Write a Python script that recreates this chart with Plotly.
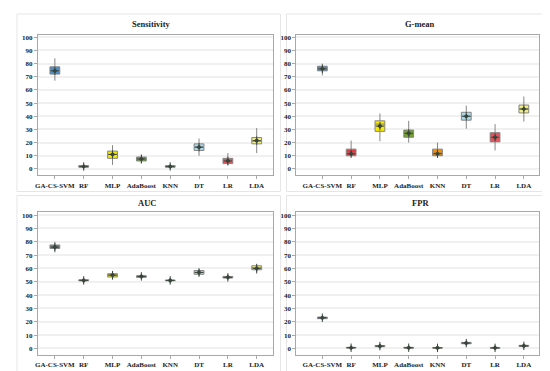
import plotly.graph_objects as go

categories = ["GA-CS-SVM", "RF", "MLP", "AdaBoost", "KNN", "DT", "LR", "LDA"]
colors = ["#4a8fcb", "#e8383d", "#f7e800", "#72a02c", "#f28c00", "#a9d9ec", "#e9505a", "#f3ee7e"]

# Sensitivity
sens_low = [67, 0.8, 3, 4, 0.5, 10, 2.5, 12]
sens_q1 = [72, 1.2, 8, 6, 1.2, 14, 4, 19]
sens_med = [74.5, 1.8, 11, 7.5, 1.8, 16.5, 6, 21]
sens_q3 = [77.5, 2.5, 13.5, 9, 2.5, 19, 8, 23.8]
sens_high = [84, 3, 18, 11, 3, 23, 12, 31]
sens_mean = [74.5, 1.8, 11, 7.5, 1.8, 16.5, 6, 21.5]

# G-mean
gm_low = [71, 9.5, 21, 20, 10, 30.5, 14, 36]
gm_q1 = [74.5, 10, 28.5, 24, 10, 37, 20.5, 42.5]
gm_med = [76, 12, 34, 27, 12, 40, 24, 45.5]
gm_q3 = [78, 15, 36.5, 29.5, 15, 43, 27.5, 48.5]
gm_high = [80, 21.5, 42, 36.5, 20, 48, 34, 55]
gm_mean = [76, 11.5, 32.5, 27, 11.5, 40, 24, 45.5]

# AUC
auc_low = [72, 50, 51.5, 52.5, 50.3, 54, 52, 56]
auc_q1 = [75, 50.7, 53.6, 53.3, 50.7, 55.6, 52.8, 59]
auc_med = [76.5, 51, 55, 54, 51, 57, 53.3, 60.5]
auc_q3 = [77.6, 51.5, 56, 54.5, 51.3, 58.4, 54, 62]
auc_high = [80, 52, 57.5, 55.5, 51.8, 59.5, 55.5, 63.5]
auc_mean = [76, 51, 55, 54, 51, 57, 53.3, 60]

# FPR
fpr_low = [21.5, 0, 0.8, 0, 0, 3, 0, 1]
fpr_q1 = [22.3, 0.3, 1.3, 0.2, 0.2, 3.5, 0.2, 1.5]
fpr_med = [23, 0.5, 1.7, 0.5, 0.4, 4, 0.4, 1.9]
fpr_q3 = [23.5, 0.8, 2.2, 0.8, 0.7, 4.5, 0.6, 2.3]
fpr_high = [24.5, 1.5, 3, 2, 1.3, 5, 1.2, 3]
fpr_mean = [23, 0.5, 1.7, 0.5, 0.4, 4, 0.4, 1.9]

y_ticks = [0, 10, 20, 30, 40, 50, 60, 70, 80, 90, 100]

panels = [
    ("Sensitivity", sens_low, sens_q1, sens_med, sens_q3, sens_high, sens_mean),
    ("G-mean", gm_low, gm_q1, gm_med, gm_q3, gm_high, gm_mean),
    ("AUC", auc_low, auc_q1, auc_med, auc_q3, auc_high, auc_mean),
    ("FPR", fpr_low, fpr_q1, fpr_med, fpr_q3, fpr_high, fpr_mean),
]

W, H = 550, 371
def px(x):
    return x / W
def py(y):
    return 1 - y / H

x_domains = [[px(27), px(263)], [px(287), px(531)], [px(27), px(263)], [px(287), px(531)]]
y_domains = [[py(166.9), py(25.7)], [py(166.9), py(25.7)], [py(347), py(204)], [py(347), py(204)]]
x_ranges = [[-0.59, 7.55], [-0.9, 7.53], [-0.59, 7.55], [-0.9, 7.53]]
title_pos = [(141, 15), (411, 15), (137, 195), (412, 195)]
cards = [(6, 5, 271, 183), (277, 5, 543, 183), (6, 187, 271, 365), (277, 187, 543, 365)]

fig = go.Figure()
font_serif = "Liberation Serif, Times New Roman, serif"
mark_col = "#3a463c"
layout = dict(
    width=W, height=H, margin=dict(l=0, r=0, t=0, b=0),
    paper_bgcolor="white", plot_bgcolor="white", showlegend=False,
    font=dict(family=font_serif),
    annotations=[], shapes=[],
)

for i, (name, lo, q1, med, q3, hi, mn) in enumerate(panels):
    suffix = "" if i == 0 else str(i + 1)
    xa, ya = "x" + suffix, "y" + suffix
    for j, cat in enumerate(categories):
        fig.add_trace(go.Box(
            x=[cat], q1=[q1[j]], median=[med[j]], q3=[q3[j]],
            lowerfence=[lo[j]], upperfence=[hi[j]],
            fillcolor=colors[j], line=dict(color="#858585", width=1),
            width=0.34, whiskerwidth=0, xaxis=xa, yaxis=ya,
            boxpoints=False, hoverinfo="skip",
        ))
    fig.add_trace(go.Scatter(
        x=categories, y=mn, mode="markers", xaxis=xa, yaxis=ya,
        marker=dict(symbol="diamond", size=4, color=mark_col, line=dict(width=0)),
        hoverinfo="skip",
    ))
    fig.add_trace(go.Scatter(
        x=categories, y=mn, mode="markers", xaxis=xa, yaxis=ya,
        marker=dict(symbol="cross-thin-open", size=6, color=mark_col,
                    line=dict(color=mark_col, width=1)),
        hoverinfo="skip",
    ))
    layout["xaxis" + suffix] = dict(
        showline=True, linecolor="#a8a8a8", linewidth=1, mirror=True,
        ticks="outside", ticklen=3, tickcolor="#a8a8a8",
        tickfont=dict(family=font_serif, size=7, color="#222"),
        domain=x_domains[i], anchor=ya, type="category",
        categoryorder="array", categoryarray=categories, range=x_ranges[i],
        tickvals=categories, ticktext=["<b>%s</b>" % c for c in categories],
        showgrid=False, zeroline=False,
    )
    layout["yaxis" + suffix] = dict(
        showline=True, linecolor="#a8a8a8", linewidth=1, mirror=True,
        ticks="outside", ticklen=3, tickcolor="#a8a8a8",
        tickfont=dict(family=font_serif, size=7, color="#222"),
        domain=y_domains[i], anchor=xa, range=[-5, 102],
        tickvals=y_ticks, ticktext=["<b>%d</b>" % v for v in y_ticks],
        showgrid=True, gridcolor="#f0f0f0", gridwidth=1.5, zeroline=False,
    )
    tx, ty = title_pos[i]
    layout["annotations"].append(dict(
        text="<b>%s</b>" % name, x=px(tx), y=py(ty), xref="paper", yref="paper",
        showarrow=False, xanchor="center", yanchor="middle",
        font=dict(family=font_serif, size=8.5, color="#222"),
    ))
    x0, y0, x1, y1 = cards[i]
    layout["shapes"].append(dict(
        type="rect", xref="paper", yref="paper", x0=px(x0), x1=px(x1), y0=py(y1), y1=py(y0),
        line=dict(color="#e6e6e6", width=1), fillcolor="rgba(0,0,0,0)", layer="below",
    ))

fig.update_layout(**layout)
fig.write_html("out.html")
